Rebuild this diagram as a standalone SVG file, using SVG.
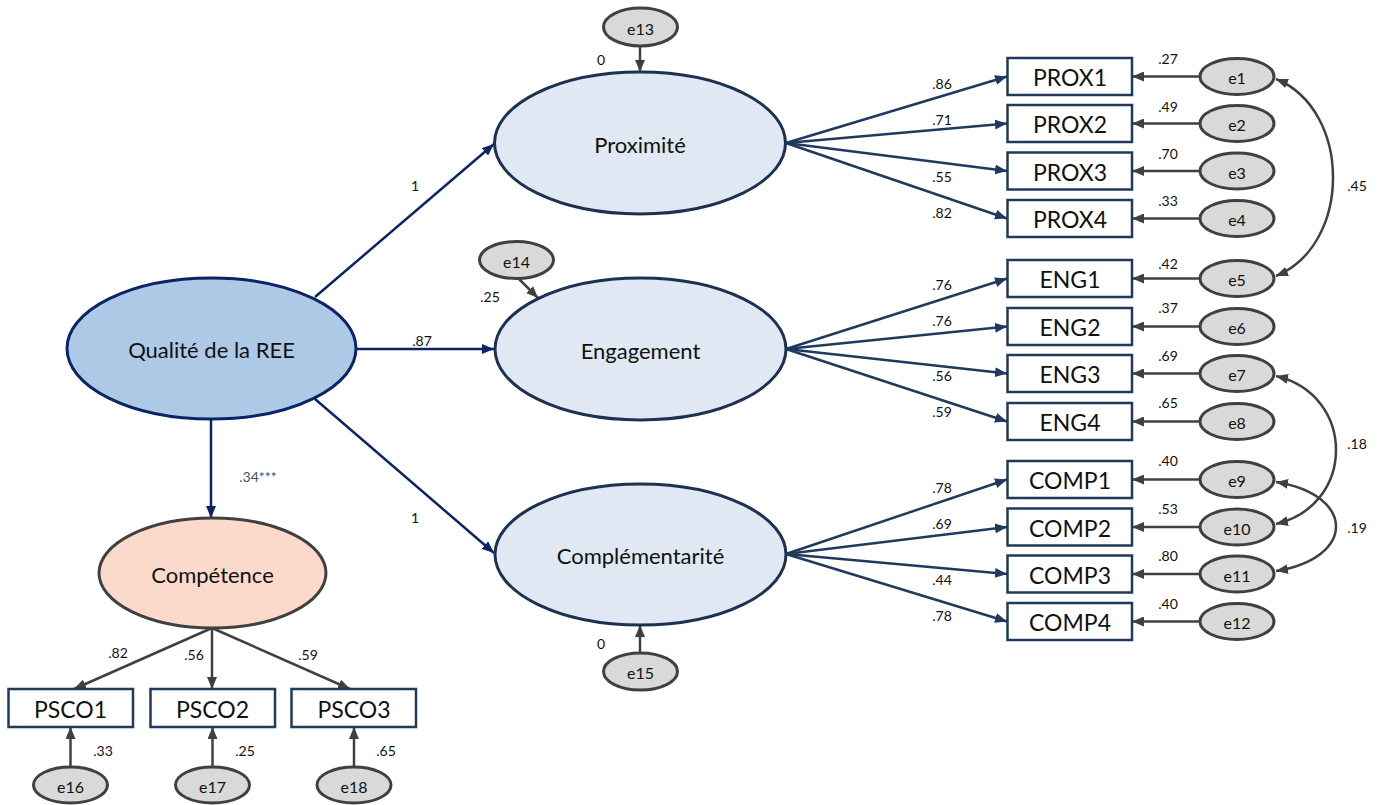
<svg xmlns="http://www.w3.org/2000/svg" width="1378" height="805" viewBox="0 0 1378 805">
<style>
text{font-family:Lato,"Open Sans","Liberation Sans",sans-serif;fill:#111;text-anchor:middle;dominant-baseline:central}
.lat{font-size:22px}
.obs{font-size:23px}
.err{font-size:16px}
.num{font-size:14px}
.box{fill:#fff;stroke:#1f3a5c;stroke-width:2.5}
.latent{fill:#dfe8f3;stroke:#1c3250;stroke-width:3}
.ee{fill:#d9d9d9;stroke:#404040;stroke-width:3}
.ln{fill:none;stroke-width:2.5}
.nv{stroke:#0a2466}
.sl{stroke:#1f3a5c}
.gr{stroke:#404040}
</style>
<defs>
<marker id="an" markerUnits="userSpaceOnUse" markerWidth="12" markerHeight="10" refX="12" refY="5" orient="auto"><path d="M0,0 L12,5 L0,10 z" fill="#0a2466"/></marker>
<marker id="as" markerUnits="userSpaceOnUse" markerWidth="12" markerHeight="10" refX="12" refY="5" orient="auto"><path d="M0,0 L12,5 L0,10 z" fill="#1f3a5c"/></marker>
<marker id="ag" markerUnits="userSpaceOnUse" markerWidth="12" markerHeight="10" refX="12" refY="5" orient="auto-start-reverse"><path d="M0,0 L12,5 L0,10 z" fill="#404040"/></marker>
</defs>

<g id="connectors">
<!-- structural paths -->
<line class="ln nv" x1="315" y1="297" x2="494" y2="144" marker-end="url(#an)"/>
<line class="ln nv" x1="357" y1="349" x2="494" y2="349" marker-end="url(#an)"/>
<line class="ln nv" x1="315" y1="399" x2="494" y2="553" marker-end="url(#an)"/>
<line class="ln nv" x1="211" y1="420" x2="211" y2="518" marker-end="url(#an)"/>
<!-- loadings Proximité -->
<line class="ln sl" x1="786" y1="143" x2="1007" y2="76.5" marker-end="url(#as)"/>
<line class="ln sl" x1="786" y1="143" x2="1007" y2="123.5" marker-end="url(#as)"/>
<line class="ln sl" x1="786" y1="143" x2="1007" y2="171" marker-end="url(#as)"/>
<line class="ln sl" x1="786" y1="143" x2="1007" y2="218.5" marker-end="url(#as)"/>
<!-- loadings Engagement -->
<line class="ln sl" x1="786" y1="349" x2="1007" y2="278.5" marker-end="url(#as)"/>
<line class="ln sl" x1="786" y1="349" x2="1007" y2="326.5" marker-end="url(#as)"/>
<line class="ln sl" x1="786" y1="349" x2="1007" y2="373.5" marker-end="url(#as)"/>
<line class="ln sl" x1="786" y1="349" x2="1007" y2="421.5" marker-end="url(#as)"/>
<!-- loadings Complémentarité -->
<line class="ln sl" x1="786" y1="554" x2="1007" y2="479.5" marker-end="url(#as)"/>
<line class="ln sl" x1="786" y1="554" x2="1007" y2="527" marker-end="url(#as)"/>
<line class="ln sl" x1="786" y1="554" x2="1007" y2="574" marker-end="url(#as)"/>
<line class="ln sl" x1="786" y1="554" x2="1007" y2="621.5" marker-end="url(#as)"/>
<!-- loadings Compétence -->
<line class="ln gr" x1="212" y1="628" x2="74" y2="689" marker-end="url(#ag)"/>
<line class="ln gr" x1="212" y1="628" x2="212" y2="689" marker-end="url(#ag)"/>
<line class="ln gr" x1="212" y1="628" x2="350" y2="689" marker-end="url(#ag)"/>
<!-- error arrows -->
<line class="ln gr" x1="1200" y1="76.5" x2="1132" y2="76.5" marker-end="url(#ag)"/>
<line class="ln gr" x1="1200" y1="123.5" x2="1132" y2="123.5" marker-end="url(#ag)"/>
<line class="ln gr" x1="1200" y1="171" x2="1132" y2="171" marker-end="url(#ag)"/>
<line class="ln gr" x1="1200" y1="218.5" x2="1132" y2="218.5" marker-end="url(#ag)"/>
<line class="ln gr" x1="1200" y1="278.5" x2="1132" y2="278.5" marker-end="url(#ag)"/>
<line class="ln gr" x1="1200" y1="326.5" x2="1132" y2="326.5" marker-end="url(#ag)"/>
<line class="ln gr" x1="1200" y1="373.5" x2="1132" y2="373.5" marker-end="url(#ag)"/>
<line class="ln gr" x1="1200" y1="421.5" x2="1132" y2="421.5" marker-end="url(#ag)"/>
<line class="ln gr" x1="1200" y1="479.5" x2="1132" y2="479.5" marker-end="url(#ag)"/>
<line class="ln gr" x1="1200" y1="527" x2="1132" y2="527" marker-end="url(#ag)"/>
<line class="ln gr" x1="1200" y1="574" x2="1132" y2="574" marker-end="url(#ag)"/>
<line class="ln gr" x1="1200" y1="621.5" x2="1132" y2="621.5" marker-end="url(#ag)"/>
<line class="ln gr" x1="640" y1="46" x2="640" y2="72" marker-end="url(#ag)"/>
<line class="ln gr" x1="519" y1="279" x2="538" y2="298" marker-end="url(#ag)"/>
<line class="ln gr" x1="640" y1="653" x2="640" y2="625" marker-end="url(#ag)"/>
<line class="ln gr" x1="70.5" y1="767" x2="70.5" y2="727" marker-end="url(#ag)"/>
<line class="ln gr" x1="212.5" y1="767" x2="212.5" y2="727" marker-end="url(#ag)"/>
<line class="ln gr" x1="354" y1="767" x2="354" y2="727" marker-end="url(#ag)"/>
<!-- covariances -->
<path class="ln gr" d="M1276,79 C1352,110 1352,245 1276,276" marker-start="url(#ag)" marker-end="url(#ag)"/>
<path class="ln gr" d="M1276,376 C1356,395 1356,505 1276,524" marker-start="url(#ag)" marker-end="url(#ag)"/>
<path class="ln gr" d="M1276,482 C1356,495 1356,558 1276,571" marker-start="url(#ag)" marker-end="url(#ag)"/>
</g>

<g id="labels">
<text class="num" x="415" y="185">1</text>
<text class="num" x="422" y="340">.87</text>
<text class="num" x="415" y="517">1</text>
<text class="num" x="258" y="476" style="fill:#44546a">.34***</text>
<text class="num" x="601" y="59">0</text>
<text class="num" x="490" y="296">.25</text>
<text class="num" x="601" y="643">0</text>
<text class="num" x="942" y="83">.86</text>
<text class="num" x="942" y="119">.71</text>
<text class="num" x="942" y="176">.55</text>
<text class="num" x="942" y="212">.82</text>
<text class="num" x="942" y="284">.76</text>
<text class="num" x="942" y="320">.76</text>
<text class="num" x="942" y="375">.56</text>
<text class="num" x="942" y="411">.59</text>
<text class="num" x="942" y="487">.78</text>
<text class="num" x="942" y="523">.69</text>
<text class="num" x="942" y="579">.44</text>
<text class="num" x="942" y="615">.78</text>
<text class="num" x="1168" y="58">.27</text>
<text class="num" x="1168" y="106">.49</text>
<text class="num" x="1168" y="153">.70</text>
<text class="num" x="1168" y="200">.33</text>
<text class="num" x="1168" y="263">.42</text>
<text class="num" x="1168" y="307">.37</text>
<text class="num" x="1168" y="355">.69</text>
<text class="num" x="1168" y="402">.65</text>
<text class="num" x="1168" y="460">.40</text>
<text class="num" x="1168" y="508">.53</text>
<text class="num" x="1168" y="555">.80</text>
<text class="num" x="1168" y="603">.40</text>
<text class="num" x="1357" y="185">.45</text>
<text class="num" x="1357" y="443">.18</text>
<text class="num" x="1357" y="527">.19</text>
<text class="num" x="118" y="652">.82</text>
<text class="num" x="194" y="654">.56</text>
<text class="num" x="308" y="654">.59</text>
<text class="num" x="103" y="750">.33</text>
<text class="num" x="245" y="750">.25</text>
<text class="num" x="386" y="750">.65</text>
</g>

<g id="qualite"><ellipse cx="211.5" cy="348.5" rx="144.5" ry="70.5" fill="#adc9e6" stroke="#0a2466" stroke-width="3"/><text class="lat" x="211.5" y="349">Qualité de la REE</text></g>
<g id="proximite"><ellipse class="latent" cx="640" cy="143" rx="145.5" ry="71"/><text class="lat" x="640" y="144">Proximité</text></g>
<g id="engagement"><ellipse class="latent" cx="640.5" cy="349" rx="145.5" ry="71"/><text class="lat" x="640.5" y="350">Engagement</text></g>
<g id="complementarite"><ellipse class="latent" cx="640.5" cy="554.5" rx="145.5" ry="70.5"/><text class="lat" x="640.5" y="555">Complémentarité</text></g>
<g id="competence"><ellipse cx="212.5" cy="573" rx="113.5" ry="55" fill="#fbdacb" stroke="#404040" stroke-width="3"/><text class="lat" x="212.5" y="574">Compétence</text></g>

<g id="e13"><ellipse class="ee" cx="640.5" cy="27" rx="37" ry="19"/><text class="err" x="640.5" y="28">e13</text></g>
<g id="e14"><ellipse class="ee" cx="516.5" cy="260" rx="37" ry="18.5"/><text class="err" x="516.5" y="261">e14</text></g>
<g id="e15"><ellipse class="ee" cx="640.5" cy="671.5" rx="37" ry="18.5"/><text class="err" x="640.5" y="672">e15</text></g>

<g id="PROX1"><rect class="box" x="1007.5" y="58" width="124.5" height="37"/><text class="obs" x="1070" y="77">PROX1</text></g>
<g id="PROX2"><rect class="box" x="1007.5" y="105" width="124.5" height="37"/><text class="obs" x="1070" y="124">PROX2</text></g>
<g id="PROX3"><rect class="box" x="1007.5" y="152.5" width="124.5" height="37"/><text class="obs" x="1070" y="171.5">PROX3</text></g>
<g id="PROX4"><rect class="box" x="1007.5" y="200" width="124.5" height="37"/><text class="obs" x="1070" y="219">PROX4</text></g>
<g id="ENG1"><rect class="box" x="1007.5" y="260" width="124.5" height="37"/><text class="obs" x="1070" y="279">ENG1</text></g>
<g id="ENG2"><rect class="box" x="1007.5" y="308" width="124.5" height="37"/><text class="obs" x="1070" y="327">ENG2</text></g>
<g id="ENG3"><rect class="box" x="1007.5" y="355" width="124.5" height="37"/><text class="obs" x="1070" y="374">ENG3</text></g>
<g id="ENG4"><rect class="box" x="1007.5" y="403" width="124.5" height="37"/><text class="obs" x="1070" y="422">ENG4</text></g>
<g id="COMP1"><rect class="box" x="1007.5" y="461" width="124.5" height="37"/><text class="obs" x="1070" y="480">COMP1</text></g>
<g id="COMP2"><rect class="box" x="1007.5" y="508.5" width="124.5" height="37"/><text class="obs" x="1070" y="527.5">COMP2</text></g>
<g id="COMP3"><rect class="box" x="1007.5" y="555.5" width="124.5" height="37"/><text class="obs" x="1070" y="574.5">COMP3</text></g>
<g id="COMP4"><rect class="box" x="1007.5" y="603" width="124.5" height="37"/><text class="obs" x="1070" y="622">COMP4</text></g>

<g id="e1"><ellipse class="ee" cx="1237" cy="76.5" rx="37" ry="18"/><text class="err" x="1237" y="77.5">e1</text></g>
<g id="e2"><ellipse class="ee" cx="1237" cy="123.5" rx="37" ry="18"/><text class="err" x="1237" y="124.5">e2</text></g>
<g id="e3"><ellipse class="ee" cx="1237" cy="171" rx="37" ry="18"/><text class="err" x="1237" y="172">e3</text></g>
<g id="e4"><ellipse class="ee" cx="1237" cy="218.5" rx="37" ry="18"/><text class="err" x="1237" y="219.5">e4</text></g>
<g id="e5"><ellipse class="ee" cx="1237" cy="278.5" rx="37" ry="18"/><text class="err" x="1237" y="279.5">e5</text></g>
<g id="e6"><ellipse class="ee" cx="1237" cy="326.5" rx="37" ry="18"/><text class="err" x="1237" y="327.5">e6</text></g>
<g id="e7"><ellipse class="ee" cx="1237" cy="373.5" rx="37" ry="18"/><text class="err" x="1237" y="374.5">e7</text></g>
<g id="e8"><ellipse class="ee" cx="1237" cy="421.5" rx="37" ry="18"/><text class="err" x="1237" y="422.5">e8</text></g>
<g id="e9"><ellipse class="ee" cx="1237" cy="479.5" rx="37" ry="18"/><text class="err" x="1237" y="480.5">e9</text></g>
<g id="e10"><ellipse class="ee" cx="1237" cy="527" rx="37" ry="18"/><text class="err" x="1237" y="528">e10</text></g>
<g id="e11"><ellipse class="ee" cx="1237" cy="574" rx="37" ry="18"/><text class="err" x="1237" y="575">e11</text></g>
<g id="e12"><ellipse class="ee" cx="1237" cy="621.5" rx="37" ry="18"/><text class="err" x="1237" y="622.5">e12</text></g>

<g id="PSCO1"><rect class="box" x="8.5" y="689" width="124.5" height="38"/><text class="obs" x="70.5" y="708.5">PSCO1</text></g>
<g id="PSCO2"><rect class="box" x="150.5" y="689" width="124.5" height="38"/><text class="obs" x="212.5" y="708.5">PSCO2</text></g>
<g id="PSCO3"><rect class="box" x="291.5" y="689" width="124.5" height="38"/><text class="obs" x="354" y="708.5">PSCO3</text></g>
<g id="e16"><ellipse class="ee" cx="70.5" cy="785" rx="37" ry="18"/><text class="err" x="70.5" y="786">e16</text></g>
<g id="e17"><ellipse class="ee" cx="212.5" cy="785" rx="37" ry="18"/><text class="err" x="212.5" y="786">e17</text></g>
<g id="e18"><ellipse class="ee" cx="354" cy="785" rx="37" ry="18"/><text class="err" x="354" y="786">e18</text></g>
</svg>
